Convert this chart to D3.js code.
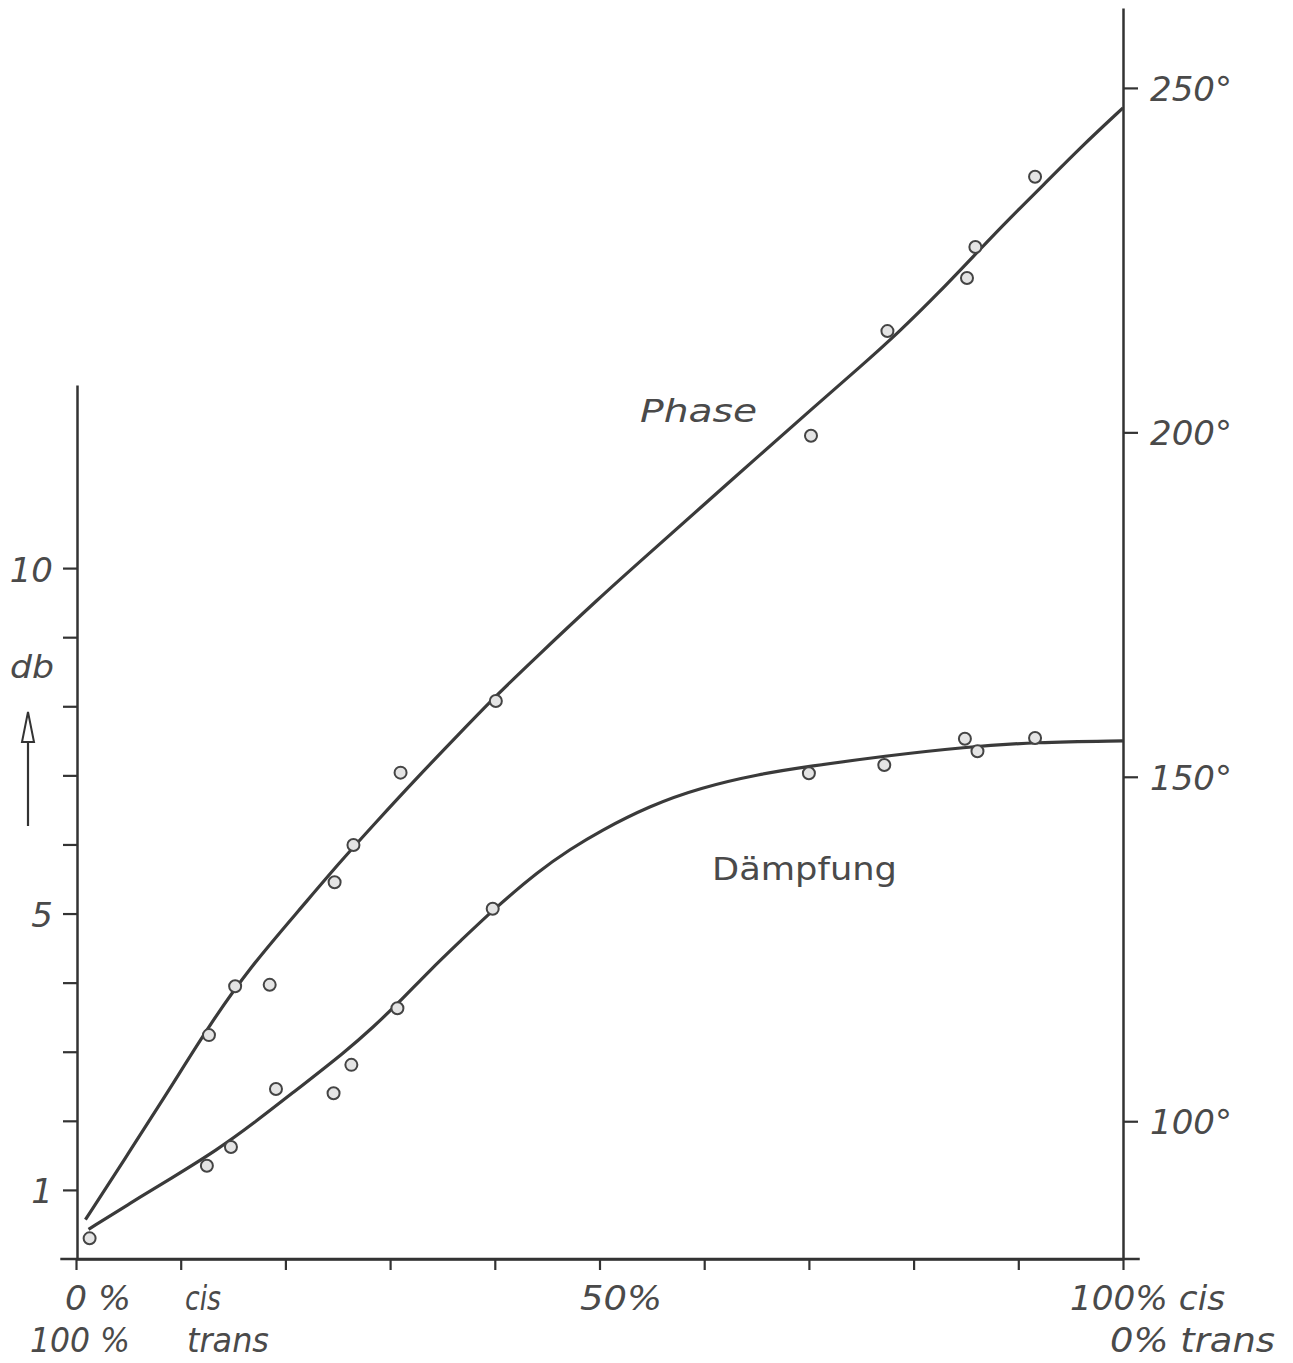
<!DOCTYPE html>
<html lang="de">
<head>
<meta charset="UTF-8">
<title>Phase und Dämpfung</title>
<script src="https://cdn.jsdelivr.net/npm/d3@7"></script>
<style>
  body { margin: 0; background: #fff; }
  text { font-family: "DejaVu Sans", "Liberation Sans", sans-serif; fill: #4a4a4a; }
</style>
</head>
<body>
<script>
// ticks
var pctTicks = [0, 10, 20, 30, 40, 50, 60, 70, 80, 90, 100];
var dbTicks = [1, 2, 3, 4, 5, 6, 7, 8, 9, 10];
var dbLabels = [1, 5, 10];
var degTicks = [100, 150, 200, 250];

// smooth curves (x in % cis)
var phaseCurvePct = [0.9, 5.2, 9.0, 12.8, 16.6, 21.4, 25.2, 28.4, 32.9, 36.7, 40.0, 43.7, 50.0, 54.8, 59.6, 65.3, 70.2, 74.9, 78.5, 82.5, 86.3, 89.2, 92.4, 95.9, 100];
var phaseCurveDeg = [85.7, 95.8, 104.8, 114.1, 122.3, 130.8, 137.6, 143.0, 150.4, 156.4, 161.6, 167.0, 176.0, 182.5, 189.0, 196.7, 203.3, 209.5, 214.4, 220.4, 226.5, 231.1, 235.9, 241.3, 247.1];

var dampCurvePct = [1.2, 5.2, 9.0, 13.5, 17.1, 20.4, 25.9, 28.4, 30.7, 33.8, 36.7, 39.8, 44.3, 47.2, 50.0, 54.8, 59.6, 65.3, 70.0, 77.2, 84.9, 91.6, 100];
var dampCurveDb = [0.43, 0.81, 1.16, 1.58, 1.98, 2.37, 3.02, 3.36, 3.69, 4.18, 4.60, 5.05, 5.63, 5.93, 6.19, 6.56, 6.82, 7.02, 7.13, 7.28, 7.41, 7.48, 7.50];

// measured points
var phasePtPct = [1.3, 12.7, 15.2, 18.5, 24.7, 26.5, 31.0, 40.1, 70.2, 77.5, 85.1, 85.9, 91.6];
var phasePtDeg = [83.0, 112.5, 119.6, 119.8, 134.7, 140.1, 150.6, 161.0, 199.5, 214.7, 222.4, 226.9, 237.1];

var dampPtPct = [12.5, 14.8, 19.1, 24.6, 26.3, 30.7, 39.8, 70.0, 77.2, 84.9, 86.1, 91.6];
var dampPtDb = [1.35, 1.62, 2.46, 2.40, 2.81, 3.63, 5.07, 7.03, 7.15, 7.53, 7.35, 7.54];

var width = 1293, height = 1363;
var ink = "#333";

var svg = d3.select("body").append("svg").attr("width", width).attr("height", height);
svg.append("rect").attr("width", width).attr("height", height).attr("fill", "#fff");

var x = d3.scaleLinear().domain([0, 100]).range([76, 1123]);
var yDb = d3.scaleLinear().domain([0, 12.65]).range([1259, 385]);
var yDeg = d3.scaleLinear().domain([80, 261.6]).range([1259, 8]);

// x axis
var gx = svg.append("g").attr("transform", "translate(0," + yDb(0) + ")")
    .call(d3.axisBottom(x).tickValues(pctTicks).tickSize(11).tickSizeOuter(0).tickFormat(""));
svg.append("line")
    .attr("x1", x(-1.5)).attr("x2", x(101.6))
    .attr("y1", yDb(0)).attr("y2", yDb(0));

// left axis (db)
var gl = svg.append("g").attr("transform", "translate(" + (x(0) + 1) + ",0)")
    .call(d3.axisLeft(yDb).tickValues(dbTicks).tickSize(14).tickSizeOuter(0).tickPadding(10)
        .tickFormat(function (d) { return dbLabels.indexOf(d) >= 0 ? d : ""; }));

// right axis (degrees)
var gr = svg.append("g").attr("transform", "translate(" + x(100) + ",0)")
    .call(d3.axisRight(yDeg).tickValues(degTicks).tickSize(15).tickSizeOuter(0).tickPadding(12)
        .tickFormat(function (d) { return d + "°"; }));

svg.selectAll("line").attr("stroke", ink).attr("stroke-width", 2.5);
[gx, gl, gr].forEach(function (g) {
    g.select(".domain").attr("stroke", ink).attr("stroke-width", 2.5);
    g.selectAll(".tick line").attr("stroke", ink).attr("stroke-width", 2.2);
    g.selectAll(".tick text").attr("font-size", 34).attr("font-style", "italic").attr("fill", "#4a4a4a")
        .attr("font-family", "DejaVu Sans, sans-serif").attr("font-weight", 300);
});
gl.selectAll(".tick text").attr("dy", "0.38em");
gr.selectAll(".tick text").attr("dy", "0.36em");

// curves (smoothed through the read-off points)
var line = d3.line().curve(d3.curveBasis);
var phasePath = phaseCurvePct.map(function (p, i) { return [x(p), yDeg(phaseCurveDeg[i])]; });
var dampPath = dampCurvePct.map(function (p, i) { return [x(p), yDb(dampCurveDb[i])]; });
svg.append("path").attr("d", line(phasePath)).attr("fill", "none")
    .attr("stroke", "#3a3a3a").attr("stroke-width", 3.2);
svg.append("path").attr("d", line(dampPath)).attr("fill", "none")
    .attr("stroke", "#3a3a3a").attr("stroke-width", 3.2);

// measured points
svg.selectAll(".pp").data(phasePtPct).enter().append("circle")
    .attr("cx", function (d) { return x(d); })
    .attr("cy", function (d, i) { return yDeg(phasePtDeg[i]); })
    .attr("r", 6).attr("fill", "#e4e4e4").attr("stroke", "#444").attr("stroke-width", 2);
svg.selectAll(".dp").data(dampPtPct).enter().append("circle")
    .attr("cx", function (d) { return x(d); })
    .attr("cy", function (d, i) { return yDb(dampPtDb[i]); })
    .attr("r", 6).attr("fill", "#e4e4e4").attr("stroke", "#444").attr("stroke-width", 2);

// labels
function label(t, lx, ly, len, italic, size) {
    svg.append("text").attr("x", lx).attr("y", ly).text(t)
        .attr("font-size", size || 34)
        .attr("font-style", italic ? "italic" : "normal")
        .attr("font-weight", italic ? 300 : "normal")
        .attr("textLength", len).attr("lengthAdjust", "spacingAndGlyphs");
}
label("Phase", 640, 422, 117, true, 32);
label("Dämpfung", 712, 880, 185, false, 32);
label("db", 10, 678, 44, true, 32);

label("0 %", 65, 1310, 66, true);
label("cis", 185, 1310, 36, true);
label("100 %", 30, 1352, 100, true);
label("trans", 187, 1352, 82, true);
label("50%", 580, 1310, 82, true);
label("100% cis", 1070, 1310, 155, true);
label("0% trans", 1110, 1352, 165, true);

// arrow next to db
svg.append("line").attr("x1", 28).attr("x2", 28).attr("y1", 826).attr("y2", 716)
    .attr("stroke", ink).attr("stroke-width", 2.2);
svg.append("path").attr("d", "M22,742 L28,712 L34,742 Z")
    .attr("fill", "#fff").attr("stroke", ink).attr("stroke-width", 2);
</script>
</body>
</html>
